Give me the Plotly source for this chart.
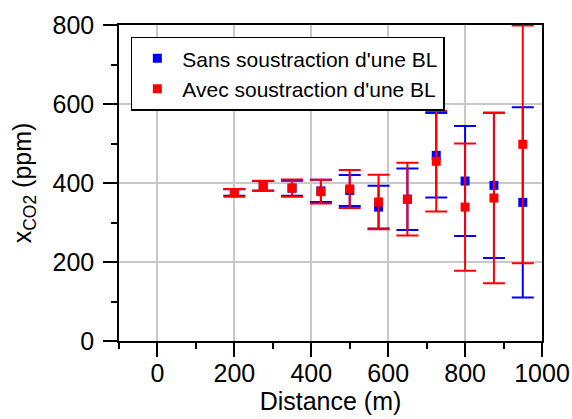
import plotly.graph_objects as go

distance = [200, 275, 350, 425, 500, 575, 650, 725, 800, 875, 950]

sans_vals = [376, 393, 387, 380, 381, 339, 359, 470, 405, 394, 351]
sans_err = [8, 12, 19, 28, 39, 54, 78, 107, 139, 184, 241]

avec_vals = [375, 393, 387, 378, 385, 352, 359, 455, 339, 362, 498]
avec_err = [10, 13, 22, 30, 48, 69, 92, 127, 161, 216, 301]

x_ticks = [0, 200, 400, 600, 800, 1000]
y_ticks = [0, 200, 400, 600, 800]

font = "Arial, Liberation Sans, sans-serif"

fig = go.Figure()
fig.add_trace(go.Scatter(
    x=distance, y=sans_vals, mode="markers",
    name="Sans soustraction d'une BL",
    marker=dict(symbol="square", size=9, color="#0000ff"),
    error_y=dict(type="data", array=sans_err, visible=True,
                 color="#0000ff", thickness=2, width=11),
))
fig.add_trace(go.Scatter(
    x=distance, y=avec_vals, mode="markers",
    name="Avec soustraction d'une BL",
    marker=dict(symbol="square", size=9, color="#ff0000"),
    error_y=dict(type="data", array=avec_err, visible=True,
                 color="#ff0000", thickness=2, width=11),
))

fig.update_layout(
    width=572, height=419,
    margin=dict(l=119, r=30, t=25, b=78, autoexpand=False),
    paper_bgcolor="white", plot_bgcolor="white",
    font=dict(family=font, size=25, color="black"),
    showlegend=True,
    legend=dict(
        x=0.028, y=0.963, xanchor="left", yanchor="top",
        bgcolor="white", bordercolor="black", borderwidth=1.5,
        font=dict(family=font, size=21, color="black"),
        itemsizing="trace", itemwidth=40,
        tracegroupgap=0,
    ),
)

fig.update_xaxes(
    range=[-100, 1000], automargin=False,
    tickvals=x_ticks, ticktext=[str(v) for v in x_ticks],
    showgrid=True, gridcolor="#c8c8c8", gridwidth=1.5,
    showline=True, linecolor="black", linewidth=1.5, mirror=True,
    ticks="outside", ticklen=14, tickwidth=1.5, tickcolor="black",
    ticklabelstandoff=-5,
    minor=dict(tickvals=[-100, 100, 300, 500, 700, 900], ticks="outside",
               ticklen=6, tickwidth=1.5, tickcolor="black", showgrid=False),
    zeroline=False,
    title=dict(text="Distance (m)", font=dict(size=25), standoff=4),
)
fig.update_yaxes(
    range=[0, 800], automargin=False,
    tickvals=y_ticks, ticktext=[str(v) for v in y_ticks],
    showgrid=True, gridcolor="#c8c8c8", gridwidth=1.5,
    showline=True, linecolor="black", linewidth=1.5, mirror=True,
    ticks="outside", ticklen=14, tickwidth=1.5, tickcolor="black",
    ticklabelstandoff=4,
    minor=dict(tickvals=[100, 300, 500, 700], ticks="outside",
               ticklen=6, tickwidth=1.5, tickcolor="black", showgrid=False),
    zeroline=False,
    title=dict(text="x<sub>CO2</sub> (ppm)", font=dict(size=25), standoff=14),
)

fig.write_html("out.html", config={"displayModeBar": False},
               post_script="document.body.style.margin='0';")
